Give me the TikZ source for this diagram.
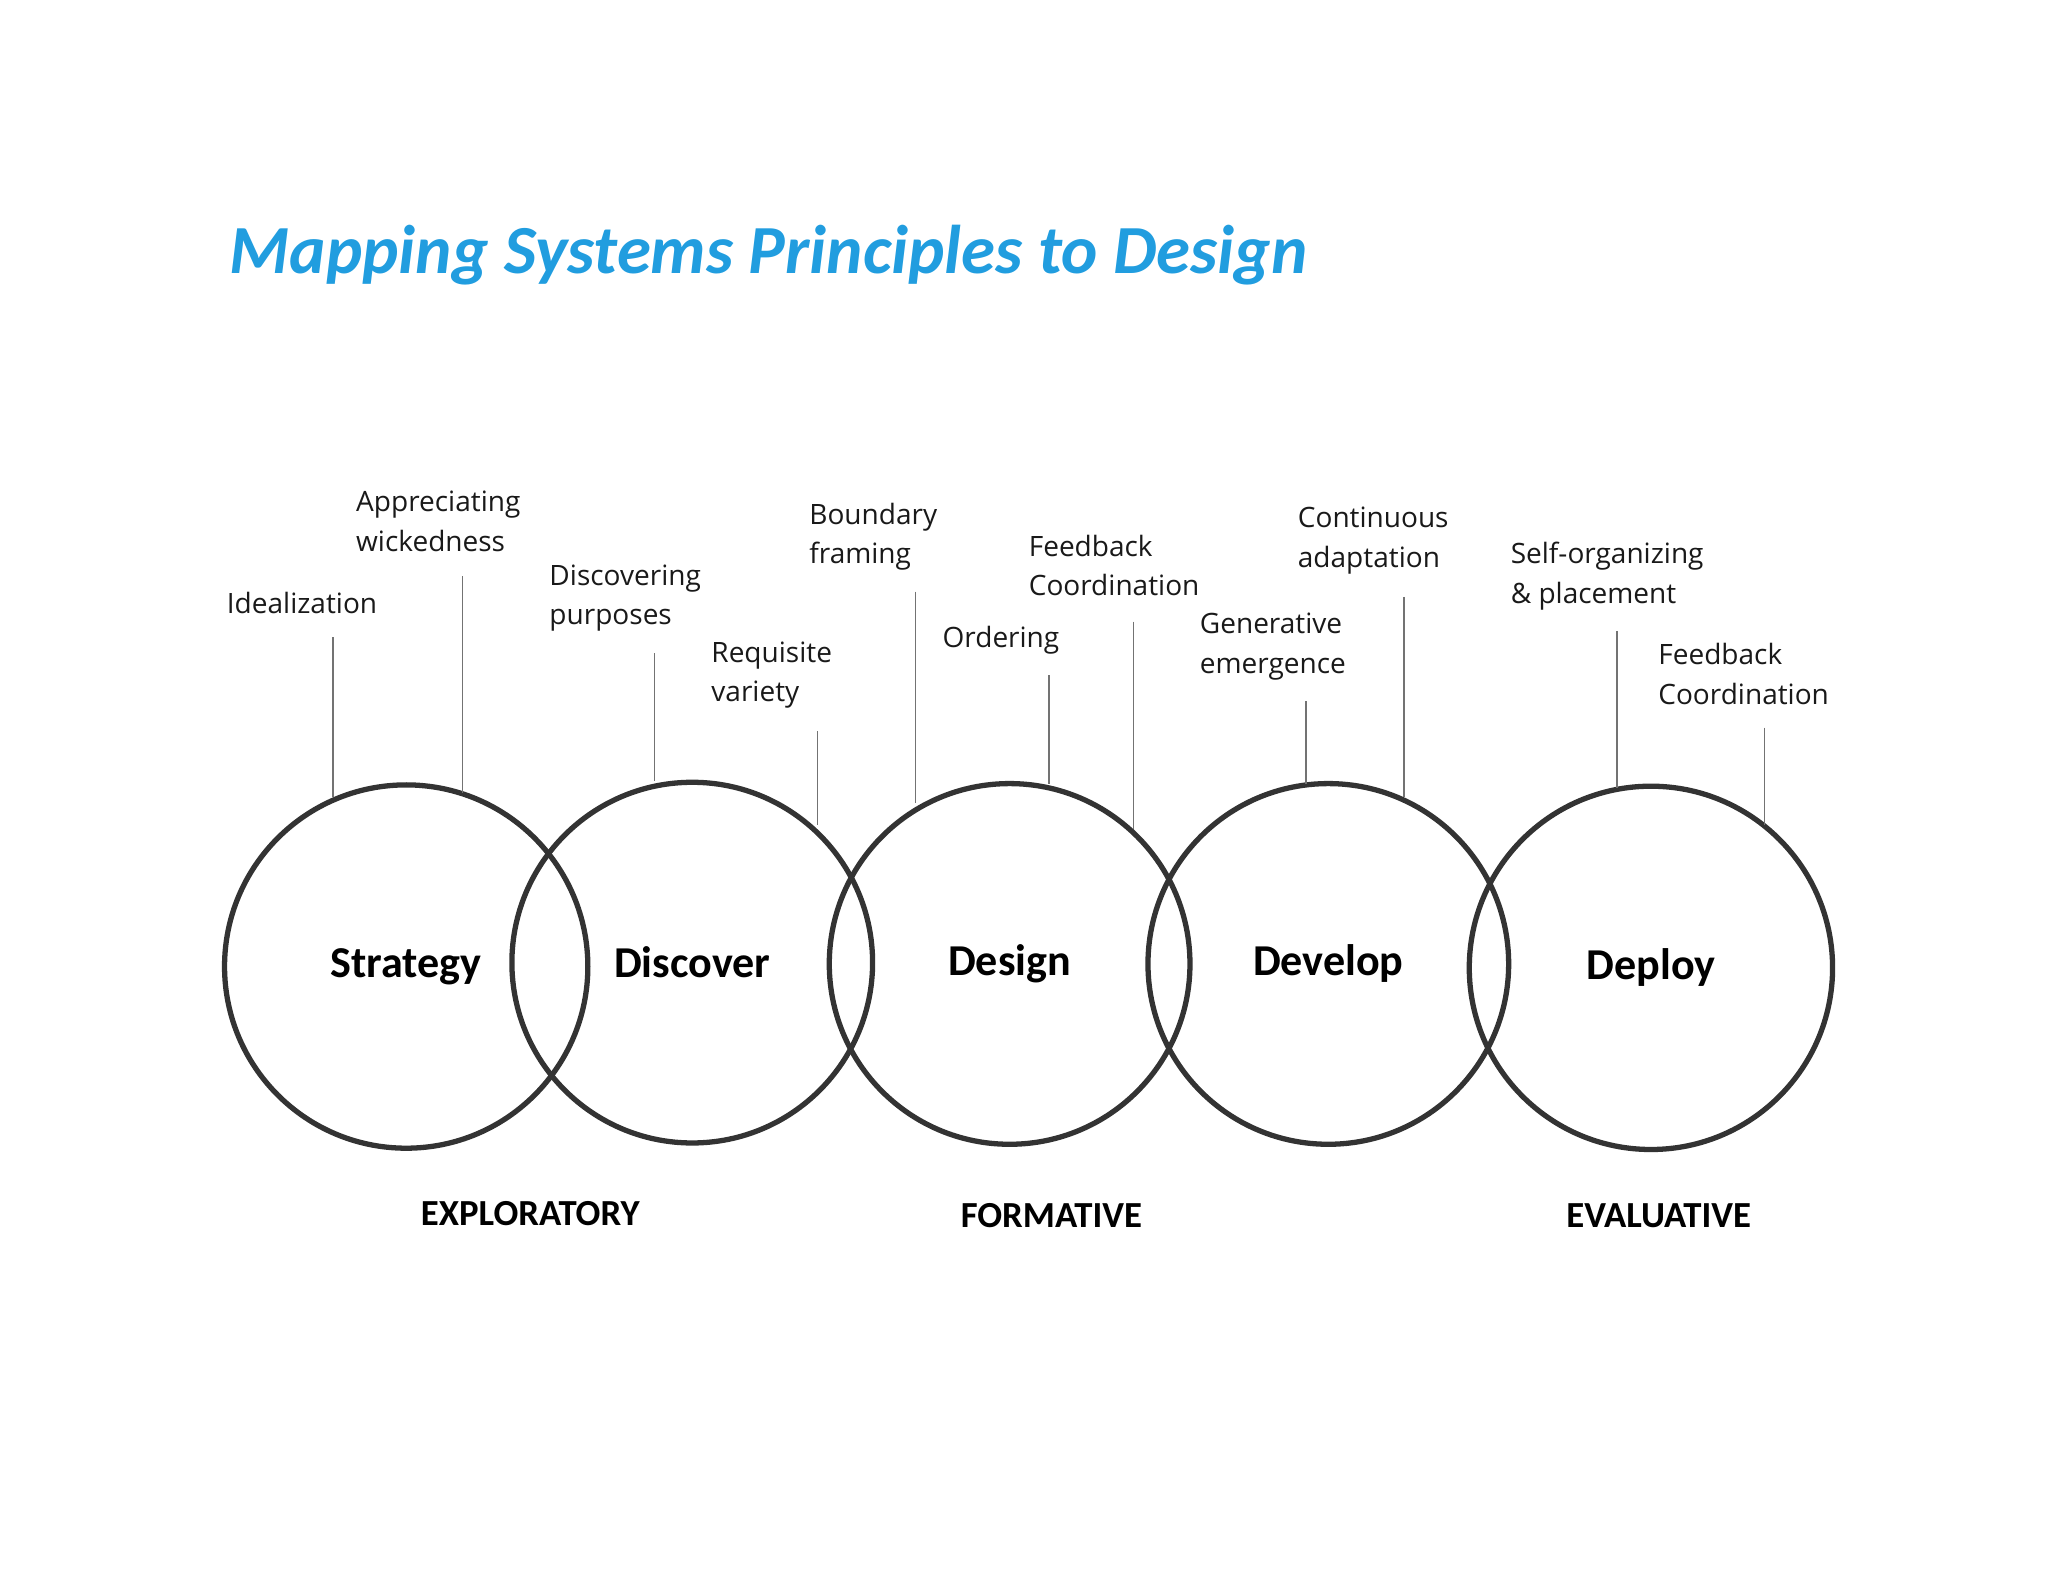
\documentclass[tikz,border=0pt]{standalone}
\usepackage{fontspec}
\setmainfont{Open Sans}
\newfontfamily\carl{Carlito}
\begin{document}
\begin{tikzpicture}[x=0.01cm,y=-0.01cm,
  ring/.style={draw=black!80,line width=1.15pt,circle,minimum size=2.76cm,inner sep=0pt},
  stagename/.style={font=\carl\bfseries\fontsize{9.6}{11}\selectfont},
  lbl/.style={anchor=west,align=left,inner sep=0pt,font=\fontsize{6.1}{8.6}\selectfont,text=black!90},
  phase/.style={inner sep=0pt,font=\carl\bfseries\fontsize{8}{9}\selectfont},
  tick/.style={draw=black!55,line width=0.3pt}]
\useasboundingbox (0,0) rectangle (1568,1211);
\node[anchor=west,inner sep=0pt,text=cyan!80!blue!90,font=\carl\bfseries\itshape\fontsize{15}{18}\selectfont] (title) at (175,195) {Mapping Systems Principles to Design};
\node[ring,minimum size=2.78cm] (c1) at (311,740) {};
\node[ring] (c2) at (530,737) {};
\node[ring] (c3) at (773,738) {};
\node[ring] (c4) at (1017,738) {};
\node[ring,minimum size=2.78cm] (c5) at (1264,741) {};
\node[stagename] (t1) at (311,740) {Strategy};
\node[stagename] (t2) at (530,737) {Discover};
\node[stagename] (t3) at (773,738) {Design};
\node[stagename] (t4) at (1017,738) {Develop};
\node[stagename] (t5) at (1264,741) {Deploy};
\node[lbl] (l1) at (173,462) {Idealization};
\node[lbl] (l2) at (272,399) {Appreciating\\wickedness};
\node[lbl] (l3) at (420,458) {Discovering\\purposes};
\node[lbl] (l4) at (544,517) {Requisite\\variety};
\node[lbl] (l5) at (619,411) {Boundary\\framing};
\node[lbl] (l6) at (721,490) {Ordering};
\node[lbl] (l7) at (787,433) {Feedback\\Coordination};
\node[lbl] (l8) at (918,495) {Generative\\emergence};
\node[lbl] (l9) at (993,414) {Continuous\\adaptation};
\node[lbl] (l10) at (1156,441) {Self-organizing\\\& placement};
\node[lbl] (l11) at (1269,516) {Feedback\\Coordination};
\foreach \n/\x/\a/\b in {1/255/488/610,2/354/441/607,3/501/500/598,4/626/560/632,5/701/453/615,6/803/517/600,7/868/476/635,8/1000/537/600,9/1075/457/610,10/1238/483/603,11/1351/557/632}{
  \coordinate (a\n) at (\x,\a); \coordinate (b\n) at (\x,\b);
  \draw[tick] (a\n) -- (b\n);}
\node[phase] (p1) at (406,929) {EXPLORATORY};
\node[phase] (p2) at (805,931) {FORMATIVE};
\node[phase] (p3) at (1270,931) {EVALUATIVE};
\end{tikzpicture}
\end{document}
